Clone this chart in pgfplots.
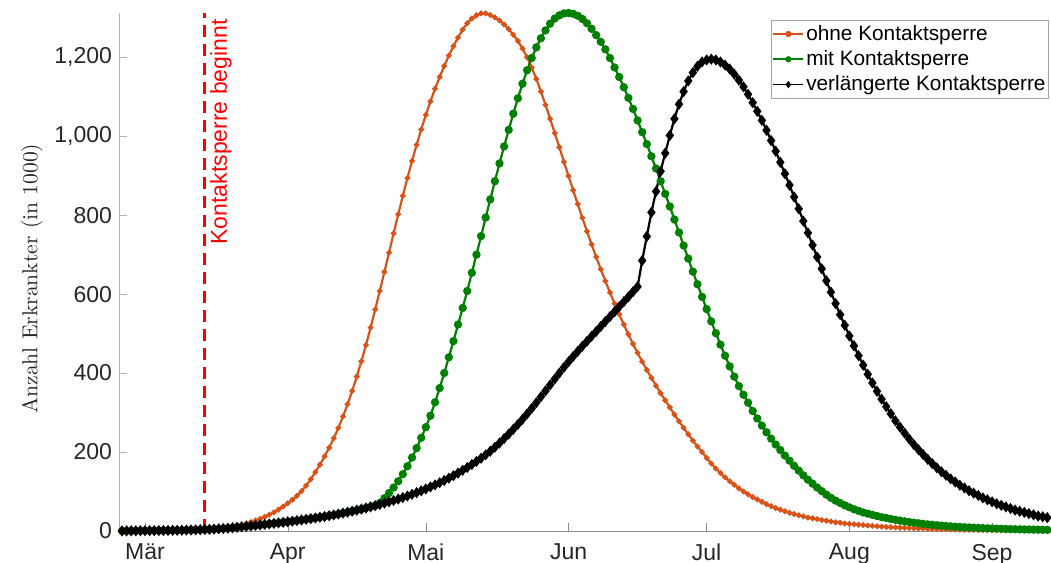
\documentclass[border=0pt]{standalone}
\usepackage{pgfplots}
\pgfplotsset{compat=1.18}
\usepackage{pgfplotstable}
\usepackage{fontspec}
\setsansfont{Liberation Sans}
\definecolor{cOrange}{rgb}{0.85,0.325,0.098}
\definecolor{cGreen}{rgb}{0,0.5,0}
\definecolor{tickgray}{rgb}{0.15,0.15,0.15}
\pgfplotstableread{
d o m v
-6 0.2 0.2 0.2
-5 0.3 0.3 0.3
-4 0.4 0.4 0.4
-3 0.5 0.5 0.5
-2 0.6 0.6 0.6
-1 0.7 0.7 0.7
0 0.8 0.8 0.8
1 0.9 0.9 0.9
2 1.0 1.0 1.0
3 1.1 1.1 1.1
4 1.2 1.2 1.2
5 1.4 1.4 1.4
6 1.6 1.6 1.6
7 1.8 1.8 1.8
8 2.0 2.0 2.0
9 2.3 2.3 2.3
10 2.6 2.6 2.6
11 2.9 2.9 2.9
12 3.3 3.3 3.3
13 3.7 3.7 3.7
14 4.6 4.2 4.2
15 5.6 4.8 4.8
16 6.8 5.5 5.5
17 8.2 6.3 6.3
18 9.8 7.2 7.2
19 11.7 8.2 8.2
20 13.9 9.3 9.3
21 16.4 10.5 10.5
22 19.3 11.7 11.7
23 22.6 12.9 12.9
24 26.4 14.1 14.1
25 30.7 15.4 15.4
26 35.6 16.7 16.7
27 41.1 18.0 18.0
28 47.3 19.3 19.3
29 54.2 20.6 20.6
30 61.9 22.0 22.0
31 70 23.4 23.4
32 79 24.9 24.9
33 89 26.4 26.4
34 101 28.0 28.0
35 115 29.6 29.6
36 131 31.3 31.3
37 149 33.0 33.0
38 168 34.8 34.8
39 189 36.7 36.7
40 211 38.7 38.7
41 235 40.8 40.8
42 261 43.0 43.0
43 290 45.3 45.3
44 321 47.7 47.7
45 355 50.2 50.2
46 391 52.8 52.8
47 430 55.5 55.5
48 471 58.3 58.3
49 515 61.2 61.2
50 561 64.2 64.2
51 608 71 67.3
52 656 83 70.5
53 705 96 73.8
54 754 110 77.2
55 802 126 80.8
56 849 144 84.6
57 894 164 88.6
58 937 186 92.8
59 978 210 97.2
60 1017 236 101.8
61 1054 263 106.6
62 1088 292 111.6
63 1120 326 116.8
64 1150 362 122.2
65 1178 400 127.9
66 1204 440 133.9
67 1228 481 140.2
68 1250 523 146.8
69 1270 565 153.7
70 1286 608 160.9
71 1298 654 168.4
72 1306 700 176.2
73 1311 747 184.3
74 1311 794 192.9
75 1307 840 202.2
76 1301 886 212.2
77 1293 931 222.8
78 1283 974 234.0
79 1271 1016 245.6
80 1257 1057 257.6
81 1241 1096 270.0
82 1222 1133 283.0
83 1200 1167 296.5
84 1174 1198 310.5
85 1145 1225 325
86 1113 1248 340
87 1079 1268 355
88 1044 1285 370
89 1008 1298 385
90 972 1306 400
91 935 1311 414.5
92 899 1312 428.5
93 863 1310 442
94 828 1305 455
95 793 1297 468
96 759 1286 480.5
97 726 1272 493
98 694 1256 505.5
99 663 1239 518
100 633 1220 530.5
101 604 1198 543
102 576 1174 555.5
103 549 1150 568
104 523 1124 580.5
105 498 1097 593
106 474 1069 606
107 451 1040 619
108 429 1010 685
109 408 980 746
110 388 949 807
111 368 918 860
112 349 886 911
113 331 854 957
114 313 822 1002
115 295 789 1044
116 278 756 1081
117 261 723 1113
118 245 690 1140
119 229 657 1161
120 214 625 1177
121 200 593 1188
122 185 562 1193
123 171 531 1195
124 158 501 1193
125 147 472 1188
126 136 444 1180
127 126 417 1170
128 117 391 1157
129 108 367 1142
130 100 345 1125
131 93 325 1106
132 86 304 1085
133 80 285 1063
134 74 267 1040
135 68 250 1015
136 63 234 989
137 58 219 962
138 54 205 934
139 50 191 905
140 46 178 876
141 43 165 846
142 40 153 816
143 37 141 785
144 34 130 755
145 32 120 724
146 30 110 694
147 28 101 664
148 26 92 634
149 24 84 605
150 22 77 576
151 21 71 548
152 19 65 521
153 18 60 494
154 17 55 469
155 16 51 444
156 15 47 420
157 14 44 397
158 13 41 375
159 12 38 354
160 11 35 334
161 10.3 33 315
162 9.7 30.5 297
163 9.1 28.3 279
164 8.5 26.3 263
165 8.0 24.4 248
166 7.5 22.7 233
167 7.0 21.1 219
168 6.5 19.6 206
169 6.1 18.2 194
170 5.7 16.9 182
171 5.3 15.7 171
172 4.9 14.6 160
173 4.6 13.6 150
174 4.3 12.7 141
175 4.0 11.8 132
176 3.7 11.0 124
177 3.5 10.3 116
178 3.2 9.6 109
179 3.0 9.0 102
180 2.8 8.4 96
181 2.6 7.8 90
182 2.4 7.3 84
183 2.3 6.8 79
184 2.1 6.4 74
185 2.0 6.0 69
186 1.9 5.6 65
187 1.8 5.2 61
188 1.7 4.9 57
189 1.6 4.6 53
190 1.5 4.3 50
191 1.4 4.0 47
192 1.3 3.8 44
193 1.2 3.5 41
194 1.1 3.3 38
195 1.0 3.1 36
196 0.9 2.9 34
197 0.8 2.7 32
}\datatable
\begin{document}
\begin{tikzpicture}
\begin{axis}[
  scale only axis, width=466pt, height=259pt,
  xmin=-5.65, xmax=196.8, ymin=0, ymax=1312,
  axis lines*=left,
  x axis line style={draw=gray!90},
  y axis line style={draw=gray!60},
  xtick={0,31,61,92,122,153,184},
  xticklabels={Mär,Apr,Mai,Jun,Jul,Aug,Sep},
  ytick={0,200,400,600,800,1000,1200},
  tick align=inside,
  major tick length=4pt,
  xtick style={draw=gray!90},
  ytick style={draw=gray!60},
  ticklabel style={font=\fontsize{11.5}{13}\selectfont\sffamily, text=tickgray},
  xticklabel style={yshift=-3pt},
  /pgf/number format/1000 sep={,},
  /pgf/number format/assume math mode=true,
  ylabel={Anzahl Erkrankter (in 1000)},
  ylabel style={at={(axis description cs:-0.0933,0.487)}, anchor=center, font=\fontsize{10.8}{12}\selectfont, text=tickgray},
  legend style={at={(1,1)}, anchor=north east, xshift=-1pt, yshift=-3.5pt,
    draw=gray!70, fill=white, font=\fontsize{10.4}{12}\selectfont\sffamily,
    inner sep=0.5pt, row sep=0pt, nodes={inner xsep=1pt, inner ysep=1.8pt},
    cells={anchor=west}},
  legend image code/.code={\draw[mark repeat=2, mark phase=2, #1, mark size=1.1pt, line width=0.9pt] plot coordinates {(0pt,0pt) (7.5pt,0pt) (15pt,0pt)};},
]
\addplot[cOrange, line width=1.1pt, mark=*, mark size=0.8pt] table[x=d, y=o]{\datatable};
\addlegendentry{ohne Kontaktsperre}
\addplot[cGreen, line width=1.1pt, mark=*, mark size=1.5pt] table[x=d, y=m]{\datatable};
\addlegendentry{mit Kontaktsperre}
\addplot[black, line width=1.1pt, mark=diamond*, mark size=1.9pt] table[x=d, y=v]{\datatable};
\addlegendentry{verlängerte Kontaktsperre}
\addplot[red, line width=1.5pt, dash pattern=on 6pt off 3.5pt, forget plot] coordinates {(13,0) (13,1312)};
\node[rotate=90, anchor=north east, inner sep=2.5pt, text=red, font=\fontsize{11.5}{13}\selectfont\sffamily] at ([yshift=-0.5pt]axis cs:13,1312) {Kontaktsperre beginnt};
\end{axis}
\pgfresetboundingbox
\path[use as bounding box] (-59.5pt,-16pt) rectangle (466pt,265.5pt);
\end{tikzpicture}
\end{document}
